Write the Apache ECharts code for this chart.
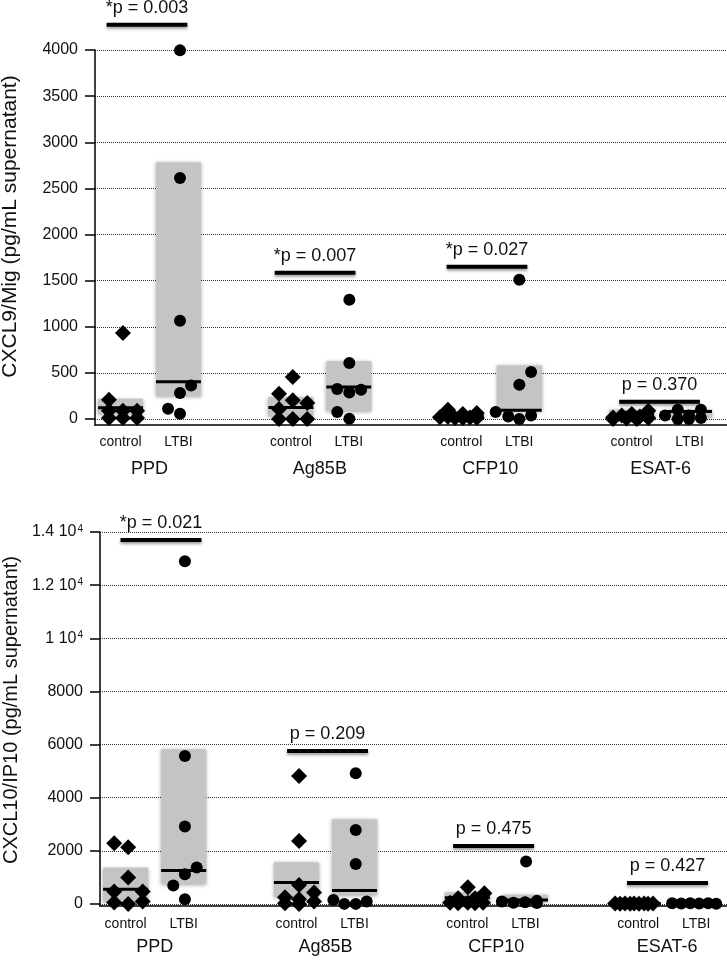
<!DOCTYPE html>
<html>
<head>
<meta charset="utf-8">
<script src="https://cdn.jsdelivr.net/npm/echarts@6/dist/echarts.min.js"></script>
<style>
html,body{margin:0;padding:0;background:#fff;}
#chart{width:727px;height:960px;}
</style>
</head>
<body>
<div id="chart"></div>
<script>
// ---------- shared categories ----------
const groups = ['PPD', 'Ag85B', 'CFP10', 'ESAT-6'];
const groupPos = [1, 2, 3, 4];
const subLabels = ['control', 'LTBI', 'control', 'LTBI', 'control', 'LTBI', 'control', 'LTBI'];
const subPos = [0.83, 1.17, 1.83, 2.17, 2.83, 3.17, 3.83, 4.17];

// ---------- CXCL9 / Mig (top) ----------
const cxcl9Ticks = [0, 500, 1000, 1500, 2000, 2500, 3000, 3500, 4000];
const cxcl9TickLabels = ['0', '500', '1000', '1500', '2000', '2500', '3000', '3500', '4000'];
const cxcl9Control = [
  [0.762, 210], [0.762, 90], [0.762, 10], [0.844, 932], [0.844, 90], [0.844, 10], [0.927, 90], [0.927, 10],
  [1.841, 455], [1.760, 274], [1.841, 202], [1.926, 173], [1.760, 108], [1.760, 0], [1.841, 0], [1.926, 0],
  [2.705, 20], [2.752, 101], [2.752, 25], [2.793, 10], [2.839, 54], [2.839, 10], [2.881, 15], [2.921, 65], [2.921, 10],
  [3.721, 17], [3.772, 39], [3.831, 54], [3.879, 28], [3.928, 90], [3.721, 0], [3.800, 5], [3.860, 0], [3.928, 10]
];
const cxcl9LTBI = [
  [1.179, 3996], [1.179, 2612], [1.179, 1066], [1.179, 282], [1.244, 364], [1.109, 112], [1.179, 57],
  [2.173, 1293], [2.173, 607], [2.102, 325], [2.173, 288], [2.242, 318], [2.102, 76], [2.173, 3],
  [3.171, 1510], [3.240, 509], [3.171, 372], [3.032, 76], [3.106, 28], [3.171, 0], [3.240, 39],
  [4.026, 39], [4.101, 101], [4.101, 0], [4.167, 39], [4.167, 0], [4.237, 101], [4.237, 10]
];
const cxcl9BoxLow = [55, 245, 28, 83, 5, 85, 5, 15];
const cxcl9BoxHigh = [220, 2782, 238, 625, 70, 581, 101, 101];
const cxcl9Median = [123, 405, 126, 347, 35, 95, 45, 80];
const cxcl9PPos = [0.985, 1.972, 2.981, 3.994];
const cxcl9PY = [4274, 1586, 1651, 188];
const cxcl9PLabels = ['*p = 0.003', '*p = 0.007', '*p = 0.027', 'p = 0.370'];

// ---------- CXCL10 / IP10 (bottom) ----------
const cxcl10Ticks = [0, 2000, 4000, 6000, 8000, 10000, 12000, 14000];
const cxcl10TickLabels = ['0', '2000', '4000', '6000', '8000', '1 10{s|4}', '1.2 10{s|4}', '1.4 10{s|4}'];
const cxcl10Control = [
  [0.763, 2283], [0.845, 2133], [0.845, 990], [0.763, 463], [0.930, 463], [0.763, 49], [0.845, 0], [0.930, 87],
  [1.845, 4817], [1.845, 2371], [1.845, 715], [1.933, 426], [1.763, 252], [1.845, 176], [1.933, 87], [1.763, 25], [1.845, 0],
  [2.833, 628], [2.930, 402], [2.776, 214], [2.875, 214], [2.729, 40], [2.776, 20], [2.833, 40], [2.875, 20], [2.922, 40],
  [3.695, 10], [3.724, 5], [3.753, 10], [3.783, 5], [3.806, 10], [3.835, 5], [3.865, 10], [3.888, 5], [3.917, 10]
];
const cxcl10LTBI = [
  [1.177, 12900], [1.177, 5570], [1.177, 2910], [1.246, 1366], [1.177, 1117], [1.109, 689], [1.177, 176],
  [2.177, 4918], [2.177, 2785], [2.177, 1505], [2.046, 150], [2.110, 0], [2.177, 0], [2.241, 87],
  [3.174, 1592], [3.032, 87], [3.100, 40], [3.168, 60], [3.237, 113], [3.237, 30],
  [4.029, 20], [4.082, 10], [4.135, 25], [4.187, 10], [4.240, 20], [4.287, 5]
];
const cxcl10BoxLow = [60, 753, 275, 339, 60, 80, 0, 0];
const cxcl10BoxHigh = [1366, 5821, 1569, 3187, 440, 339, 40, 50];
const cxcl10Median = [553, 1253, 803, 500, 230, 150, 10, 15];
const cxcl10PPos = [1.037, 2.012, 2.984, 4.002];
const cxcl10PY = [13699, 5758, 2183, 790];
const cxcl10PLabels = ['*p = 0.021', 'p = 0.209', 'p = 0.475', 'p = 0.427'];

// ---------- drawing ----------
const FONT = '"Liberation Sans", Arial, Helvetica, sans-serif';
const BOX_HALF = 0.132;
const PBAR_HALF = 0.237;
const XMIN = 0.68;

function lookup(vals, labels) {
  return function (v) {
    for (let i = 0; i < vals.length; i++) if (Math.abs(vals[i] - v) < 1e-6) return labels[i];
    return '';
  };
}

function xAxes(gi, xmax, subMargin, grpMargin) {
  return [
    {
      gridIndex: gi, type: 'value', min: XMIN, max: xmax, position: 'bottom', offset: 0,
      axisLine: { show: true, onZero: false, lineStyle: { color: '#000', width: 1.5 } },
      axisTick: { show: false },
      splitLine: { show: false },
      axisLabel: {
        customValues: subPos, formatter: lookup(subPos, subLabels),
        margin: subMargin, fontSize: 14, color: '#111', fontFamily: FONT
      }
    },
    {
      gridIndex: gi, type: 'value', min: XMIN, max: xmax, position: 'bottom', offset: 0,
      axisLine: { show: false, onZero: false }, axisTick: { show: false }, splitLine: { show: false },
      axisLabel: {
        customValues: groupPos, formatter: lookup(groupPos, groups),
        margin: grpMargin, fontSize: 18, color: '#111', fontFamily: FONT
      }
    }
  ];
}

function yAxis(gi, min, max, ticks, labels, name, nameGap, namePad, nameSize) {
  return {
    gridIndex: gi, type: 'value', min: min, max: max,
    name: name, nameLocation: 'middle', nameGap: nameGap,
    nameTextStyle: { fontSize: nameSize, color: '#111', fontFamily: FONT, padding: [0, 0, 0, namePad] },
    axisLine: { show: true, lineStyle: { color: '#000', width: 1.5 } },
    axisTick: { show: true, length: 10, customValues: ticks, lineStyle: { color: '#000', width: 1.5 } },
    axisLabel: {
      customValues: ticks, formatter: lookup(ticks, labels), margin: 17,
      fontSize: 16, color: '#111', fontFamily: FONT,
      rich: { s: { fontSize: 10, verticalAlign: 'top', color: '#111', fontFamily: FONT, padding: [0, 0, 0, 1] } }
    },
    splitLine: { show: true, lineStyle: { color: '#333', width: 1, type: [1, 1] } }
  };
}

function panelSeries(xi, yi, control, ltbi, low, high, med, pPos, pY, pLabels) {
  const boxData = subPos.map((x, i) => [x, low[i], high[i]]);
  const medData = subPos.map((x, i) => [x, med[i]]);
  const pData = pPos.map((x, i) => [x, pY[i]]);
  return [
    {
      type: 'custom', xAxisIndex: xi, yAxisIndex: yi, z: 1, data: boxData, clip: false,
      renderItem: function (params, api) {
        const x = api.value(0);
        const p1 = api.coord([x - BOX_HALF, api.value(2)]);
        const p2 = api.coord([x + BOX_HALF, api.value(1)]);
        return {
          type: 'rect',
          shape: { x: p1[0], y: p1[1], width: p2[0] - p1[0], height: p2[1] - p1[1] },
          style: { fill: '#c4c4c4', shadowBlur: 4, shadowColor: 'rgba(0,0,0,0.35)', shadowOffsetY: 1 }
        };
      }
    },
    {
      type: 'scatter', xAxisIndex: xi, yAxisIndex: yi, z: 3, data: control,
      symbol: 'diamond', symbolSize: 16, itemStyle: { color: '#000', opacity: 1 }
    },
    {
      type: 'scatter', xAxisIndex: xi, yAxisIndex: yi, z: 3, data: ltbi,
      symbol: 'circle', symbolSize: 12, itemStyle: { color: '#000', opacity: 1 }
    },
    {
      type: 'custom', xAxisIndex: xi, yAxisIndex: yi, z: 4, data: medData, clip: false,
      renderItem: function (params, api) {
        const x = api.value(0);
        const a = api.coord([x - BOX_HALF, api.value(1)]);
        const b = api.coord([x + BOX_HALF, api.value(1)]);
        return { type: 'line', shape: { x1: a[0], y1: a[1], x2: b[0], y2: b[1] }, style: { stroke: '#000', lineWidth: 3 } };
      }
    },
    {
      type: 'custom', xAxisIndex: xi, yAxisIndex: yi, z: 5, data: pData, clip: false,
      renderItem: function (params, api) {
        const x = api.value(0);
        const a = api.coord([x - PBAR_HALF, api.value(1)]);
        const b = api.coord([x + PBAR_HALF, api.value(1)]);
        return {
          type: 'group',
          children: [
            { type: 'line', shape: { x1: a[0], y1: a[1], x2: b[0], y2: b[1] },
              style: { stroke: '#000', lineWidth: 4, shadowBlur: 3, shadowColor: 'rgba(0,0,0,0.4)', shadowOffsetY: 2 } },
            { type: 'text', x: (a[0] + b[0]) / 2, y: a[1] - 8,
              style: { text: pLabels[params.dataIndex], fontSize: 18, fontFamily: FONT, fill: '#111',
                       align: 'center', verticalAlign: 'bottom' } }
          ]
        };
      }
    }
  ];
}

const chart = echarts.init(document.getElementById('chart'), null, { renderer: 'canvas' });
chart.setOption({
  backgroundColor: '#fff',
  animation: false,
  grid: [
    { left: 95, top: 50, right: 0, height: 375, containLabel: false, outerBoundsMode: 'none' },
    { left: 100, top: 532, right: 0, height: 374, containLabel: false, outerBoundsMode: 'none' }
  ],
  xAxis: [].concat(xAxes(0, 4.39, 10, 35), xAxes(1, 4.35, 11, 32)),
  yAxis: [
    yAxis(0, -65, 4000, cxcl9Ticks, cxcl9TickLabels, 'CXCL9/Mig (pg/mL supernatant)', 74, 22, 21),
    yAxis(1, -80, 14000, cxcl10Ticks, cxcl10TickLabels, 'CXCL10/IP10 (pg/mL supernatant)', 79, 18, 20)
  ],
  series: [].concat(
    panelSeries(0, 0, cxcl9Control, cxcl9LTBI, cxcl9BoxLow, cxcl9BoxHigh, cxcl9Median, cxcl9PPos, cxcl9PY, cxcl9PLabels),
    panelSeries(2, 1, cxcl10Control, cxcl10LTBI, cxcl10BoxLow, cxcl10BoxHigh, cxcl10Median, cxcl10PPos, cxcl10PY, cxcl10PLabels)
  )
});
</script>
</body>
</html>
